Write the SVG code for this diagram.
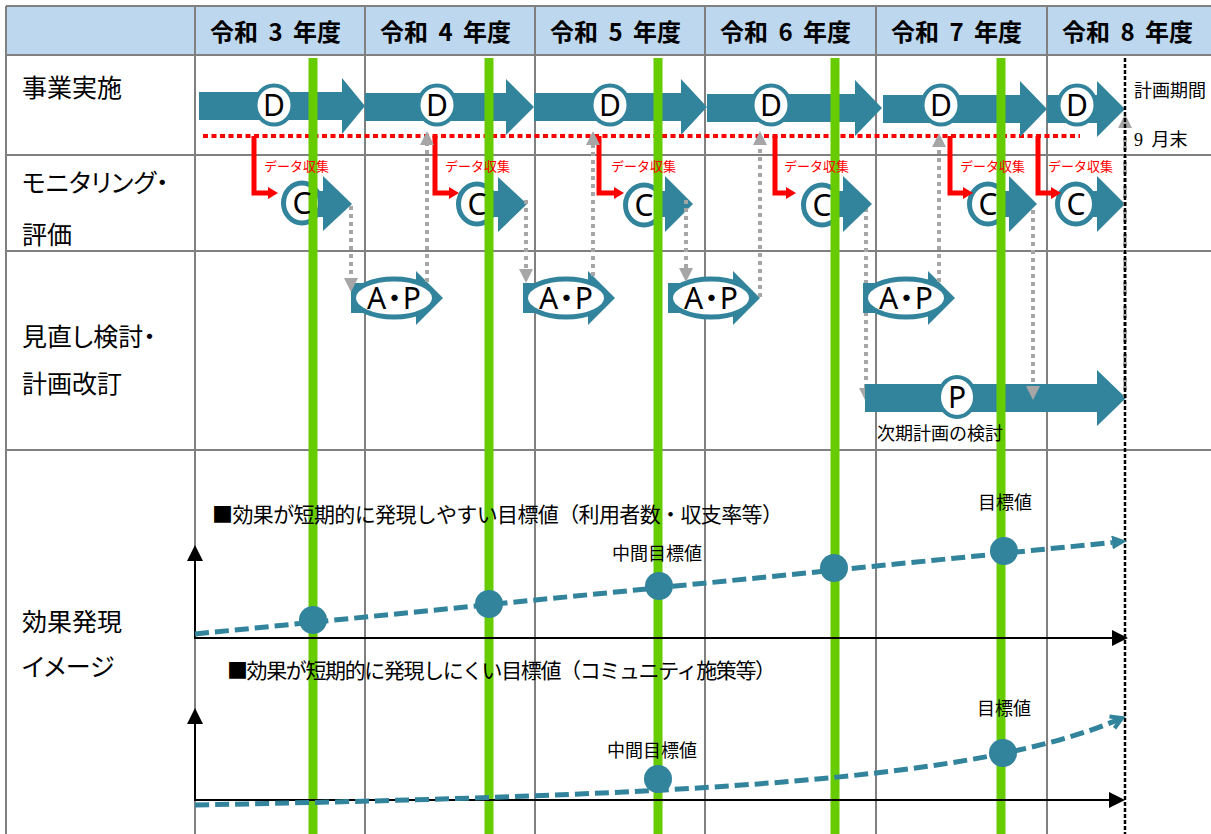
<svg xmlns="http://www.w3.org/2000/svg" width="1211" height="834" viewBox="0 0 1211 834">
<defs>
<style>
.grid{stroke:#808080;stroke-width:2;fill:none}
.teal{fill:#31849B}
.ring{fill:#fff;stroke:#31849B;stroke-width:4}
.ring5{fill:#fff;stroke:#31849B;stroke-width:5}
.jp{font-family:"Noto Sans CJK JP",sans-serif;fill:#000}
.lbl{font-size:25px}
.hdr{font-size:24px;font-weight:bold;word-spacing:5px}
.let{font-family:"Noto Sans","Noto Sans CJK JP",sans-serif;text-anchor:middle;fill:#000}
.red{stroke:#FF0000;stroke-width:5;fill:none}
.redtxt{font-family:"Noto Sans CJK JP",sans-serif;font-size:13px;fill:#FF0000}
.gray{stroke:#A6A6A6;stroke-width:4;stroke-dasharray:4 4;fill:none}
.green{stroke:#66CC00;stroke-width:9}
.axis{stroke:#000;stroke-width:2;fill:none}
.curve{stroke:#31849B;stroke-width:5;stroke-dasharray:14 6;fill:none}
.dot{fill:#31849B}
.small{font-size:18px}
.mid{text-anchor:middle}
</style>
<marker id="gArr" markerUnits="userSpaceOnUse" markerWidth="14" markerHeight="14" viewBox="0 0 14 14" refX="0" refY="7" orient="auto"><path d="M0,0 L14,7 L0,14 z" fill="#A6A6A6"/></marker>
<marker id="rArr" markerUnits="userSpaceOnUse" markerWidth="10" markerHeight="12" viewBox="0 0 10 12" refX="0" refY="6" orient="auto"><path d="M0,0 L10,6 L0,12 z" fill="#FF0000"/></marker>
<marker id="kArr" markerUnits="userSpaceOnUse" markerWidth="16" markerHeight="16" viewBox="0 0 16 16" refX="0" refY="8" orient="auto"><path d="M0,0 L16,8 L0,16 z" fill="#000"/></marker>
<marker id="tArr" markerUnits="userSpaceOnUse" markerWidth="15" markerHeight="14" viewBox="0 0 15 14" refX="0" refY="7" orient="auto"><path d="M0,0 L15,7 L0,14 z" fill="#31849B"/></marker>
<marker id="oArr" markerUnits="userSpaceOnUse" markerWidth="20" markerHeight="20" viewBox="-4 -4 20 22" refX="12" refY="7" orient="auto" overflow="visible"><path d="M0,0 L12,7 L0,14" fill="none" stroke="#31849B" stroke-width="4.5"/></marker>
</defs>

<g id="table">
<rect x="6" y="6" width="1205" height="49" fill="#BDD7EE"/>
<path class="grid" d="M6,6 H1211 M6,55 H1211 M6,155 H1211 M6,251 H1211 M6,450 H1211 M6,6 V834 M195,6 V834 M365,6 V834 M535,6 V834 M705,6 V834 M876,6 V834 M1047,6 V834"/>
</g>

<g id="header">
<text class="jp hdr" x="210" y="41">令和 3 年度</text>
<text class="jp hdr" x="380" y="41">令和 4 年度</text>
<text class="jp hdr" x="550" y="41">令和 5 年度</text>
<text class="jp hdr" x="720" y="41">令和 6 年度</text>
<text class="jp hdr" x="891" y="41">令和 7 年度</text>
<text class="jp hdr" x="1062" y="41">令和 8 年度</text>
</g>

<g id="row-labels">
<text class="jp lbl" x="22" y="97">事業実施</text>
<text class="jp lbl" x="22" y="192" style="font-feature-settings:'palt'">モニタリング・</text>
<text class="jp lbl" x="22" y="244">評価</text>
<text class="jp lbl" x="22" y="346" style="font-feature-settings:'palt'">見直し検討・</text>
<text class="jp lbl" x="22" y="393">計画改訂</text>
<text class="jp lbl" x="22" y="631">効果発現</text>
<text class="jp lbl" x="22" y="676" style="font-feature-settings:'palt'">イメージ</text>
</g>

<g id="connectors">
<path d="M203,136 H1080" stroke="#FF0000" stroke-width="4" stroke-dasharray="5 3.5" fill="none"/>
<path class="gray" d="M866,208 V388" marker-end="url(#gArr)"/>
</g>

<g id="d1"><polygon class="teal" points="199,92 342,92 342,78 365,106 342,134 342,120 199,120"/><ellipse class="ring" cx="274" cy="105" rx="18.5" ry="19.5"/></g>
<g id="d2"><polygon class="teal" points="365,93 506,93 506,79 534,107 506,135 506,121 365,121"/><ellipse class="ring" cx="437" cy="105" rx="18.5" ry="19.5"/></g>
<g id="d3"><polygon class="teal" points="534,93 681,93 681,79 707,107 681,135 681,121 534,121"/><ellipse class="ring" cx="610" cy="105" rx="18.5" ry="19.5"/></g>
<g id="d4"><polygon class="teal" points="707,94 855,94 855,80 882,108 855,136 855,122 707,122"/><ellipse class="ring" cx="771" cy="105" rx="18.5" ry="19.5"/></g>
<g id="d5"><polygon class="teal" points="883,95 1020,95 1020,81 1047,109 1020,137 1020,123 883,123"/><ellipse class="ring" cx="941" cy="105" rx="18.5" ry="19.5"/></g>
<g id="d6"><polygon class="teal" points="1047,95 1097,95 1097,81 1125,109 1097,137 1097,123 1047,123"/><ellipse class="ring" cx="1077" cy="105" rx="18.5" ry="19.5"/></g>

<g id="c1"><rect class="teal" x="302" y="191" width="22" height="26"/><polygon class="teal" points="323,176 352,204 323,231"/><ellipse class="ring5" cx="302" cy="203" rx="18.5" ry="20"/></g>
<g id="c2"><rect class="teal" x="477" y="191" width="22" height="26"/><polygon class="teal" points="498,177 527,204 498,232"/><ellipse class="ring5" cx="477" cy="204" rx="18.5" ry="20"/></g>
<g id="c3"><rect class="teal" x="644" y="191" width="22" height="26"/><polygon class="teal" points="665,176 693,204 665,232"/><ellipse class="ring5" cx="644" cy="205" rx="18.5" ry="20"/></g>
<g id="c4"><rect class="teal" x="822" y="191" width="22" height="26"/><polygon class="teal" points="843,176 872,204 843,232"/><ellipse class="ring5" cx="822" cy="205" rx="18.5" ry="20"/></g>
<g id="c5"><rect class="teal" x="988" y="191" width="22" height="26"/><polygon class="teal" points="1009,176 1037,204 1009,232"/><ellipse class="ring5" cx="988" cy="204" rx="18.5" ry="20"/></g>
<g id="c6"><rect class="teal" x="1076" y="191" width="22" height="26"/><polygon class="teal" points="1097,176 1125,204 1097,232"/><ellipse class="ring5" cx="1076" cy="204" rx="18.5" ry="20"/></g>

<g id="ap1"><rect class="teal" x="351" y="283" width="66" height="30"/><polygon class="teal" points="416,271 443,298 416,325"/><ellipse class="ring5" cx="394" cy="298" rx="40.5" ry="19"/></g>
<g id="ap2"><rect class="teal" x="523" y="283" width="66" height="30"/><polygon class="teal" points="588,271 615,298 588,325"/><ellipse class="ring5" cx="566" cy="298" rx="40.5" ry="19"/></g>
<g id="ap3"><rect class="teal" x="668" y="283" width="66" height="30"/><polygon class="teal" points="733,271 760,298 733,325"/><ellipse class="ring5" cx="711" cy="298" rx="40.5" ry="19"/></g>
<g id="ap4"><rect class="teal" x="863" y="283" width="66" height="30"/><polygon class="teal" points="928,271 955,298 928,325"/><ellipse class="ring5" cx="906" cy="298" rx="40.5" ry="19"/></g>

<g id="p1"><polygon class="teal" points="865,384 1097,384 1097,370 1126,398 1097,426 1097,412 865,412"/><ellipse class="ring" cx="957" cy="397" rx="18" ry="20"/></g>

<g id="connectors-top">
<path class="red" d="M254,136 V193 H268" marker-end="url(#rArr)"/>
<path class="red" d="M435,136 V193 H449" marker-end="url(#rArr)"/>
<path class="red" d="M599,136 V193 H614" marker-end="url(#rArr)"/>
<path class="red" d="M775,136 V193 H786" marker-end="url(#rArr)"/>
<path class="red" d="M950,136 V193 H963" marker-end="url(#rArr)"/>
<path class="red" d="M1038,136 V193 H1051" marker-end="url(#rArr)"/>
<path class="gray" d="M351,206 V278" marker-end="url(#gArr)"/>
<path class="gray" d="M427,282 V145" marker-end="url(#gArr)"/>
<path class="gray" d="M526,200 V269" marker-end="url(#gArr)"/>
<path class="gray" d="M593,276 V145" marker-end="url(#gArr)"/>
<path class="gray" d="M686,200 V268" marker-end="url(#gArr)"/>
<path class="gray" d="M760,297 V145" marker-end="url(#gArr)"/>
<path class="gray" d="M939,282 V147" marker-end="url(#gArr)"/>
<path class="gray" d="M1033,210 V386" marker-end="url(#gArr)"/>
<path class="gray" d="M1125,398 V128" marker-end="url(#gArr)"/>
</g>

<g id="period-line">
<path d="M1125,58 V834" stroke="#000" stroke-width="2.5" stroke-dasharray="4 2" fill="none"/>
</g>

<g id="milestones">
<path class="green" d="M313,58 V834 M489,58 V834 M658,58 V834 M835,58 V834 M1001,58 V834"/>
</g>

<g id="letters">
<text class="let" x="274" y="116" font-size="30">D</text>
<text class="let" x="437" y="116" font-size="30">D</text>
<text class="let" x="610" y="116" font-size="30">D</text>
<text class="let" x="771" y="116" font-size="30">D</text>
<text class="let" x="941" y="116" font-size="30">D</text>
<text class="let" x="1077" y="116" font-size="30">D</text>
<text class="let" x="302" y="214" font-size="30">C</text>
<text class="let" x="477" y="215" font-size="30">C</text>
<text class="let" x="644" y="216" font-size="30">C</text>
<text class="let" x="822" y="216" font-size="30">C</text>
<text class="let" x="988" y="215" font-size="30">C</text>
<text class="let" x="1076" y="215" font-size="30">C</text>
<text class="let" x="394" y="309" font-size="30" textLength="54">A・P</text>
<text class="let" x="566" y="309" font-size="30" textLength="54">A・P</text>
<text class="let" x="711" y="309" font-size="30" textLength="54">A・P</text>
<text class="let" x="906" y="309" font-size="30" textLength="54">A・P</text>
<text class="let" x="957" y="408" font-size="30">P</text>
<text class="redtxt" x="264" y="171">データ収集</text>
<text class="redtxt" x="445" y="171">データ収集</text>
<text class="redtxt" x="611" y="171">データ収集</text>
<text class="redtxt" x="784" y="171">データ収集</text>
<text class="redtxt" x="960" y="171">データ収集</text>
<text class="redtxt" x="1048" y="171">データ収集</text>
<text class="jp small" x="877" y="440">次期計画の検討</text>
<text x="1134" y="97" font-family="'Liberation Serif','Noto Sans CJK JP',serif" font-size="18">計画期間</text>
<text x="1134" y="146" font-family="'Liberation Serif','Noto Sans CJK JP',serif" font-size="18" style="word-spacing:4px">9 月末</text>
</g>

<g id="chart1">
<path class="axis" d="M195,638 H1112" marker-end="url(#kArr)"/>
<path class="axis" d="M195,639 V561" marker-end="url(#kArr)"/>
<path class="curve" d="M195,634 L1112,542.5" marker-end="url(#tArr)"/>
<circle class="dot" cx="313" cy="620" r="14"/>
<circle class="dot" cx="489" cy="604" r="14"/>
<circle class="dot" cx="659" cy="586" r="14"/>
<circle class="dot" cx="834" cy="568" r="14"/>
<circle class="dot" cx="1004" cy="551" r="14"/>
<text class="jp" x="212" y="522" font-size="21" textLength="571">■効果が短期的に発現しやすい目標値（利用者数・収支率等）</text>
<text class="jp small mid" x="657" y="560">中間目標値</text>
<text class="jp small mid" x="1005" y="509">目標値</text>
</g>

<g id="chart2">
<path class="axis" d="M195,800 H1109" marker-end="url(#kArr)"/>
<path class="axis" d="M195,801 V724" marker-end="url(#kArr)"/>
<path class="curve" d="M195,805 C700,795 980,780 1122,718" marker-end="url(#oArr)"/>
<circle class="dot" cx="658" cy="779" r="14"/>
<circle class="dot" cx="1003" cy="753" r="14"/>
<text class="jp" x="227" y="678" font-size="21" textLength="549">■効果が短期的に発現しにくい目標値（コミュニティ施策等）</text>
<text class="jp small mid" x="652" y="757">中間目標値</text>
<text class="jp small mid" x="1004" y="715">目標値</text>
</g>
</svg>
